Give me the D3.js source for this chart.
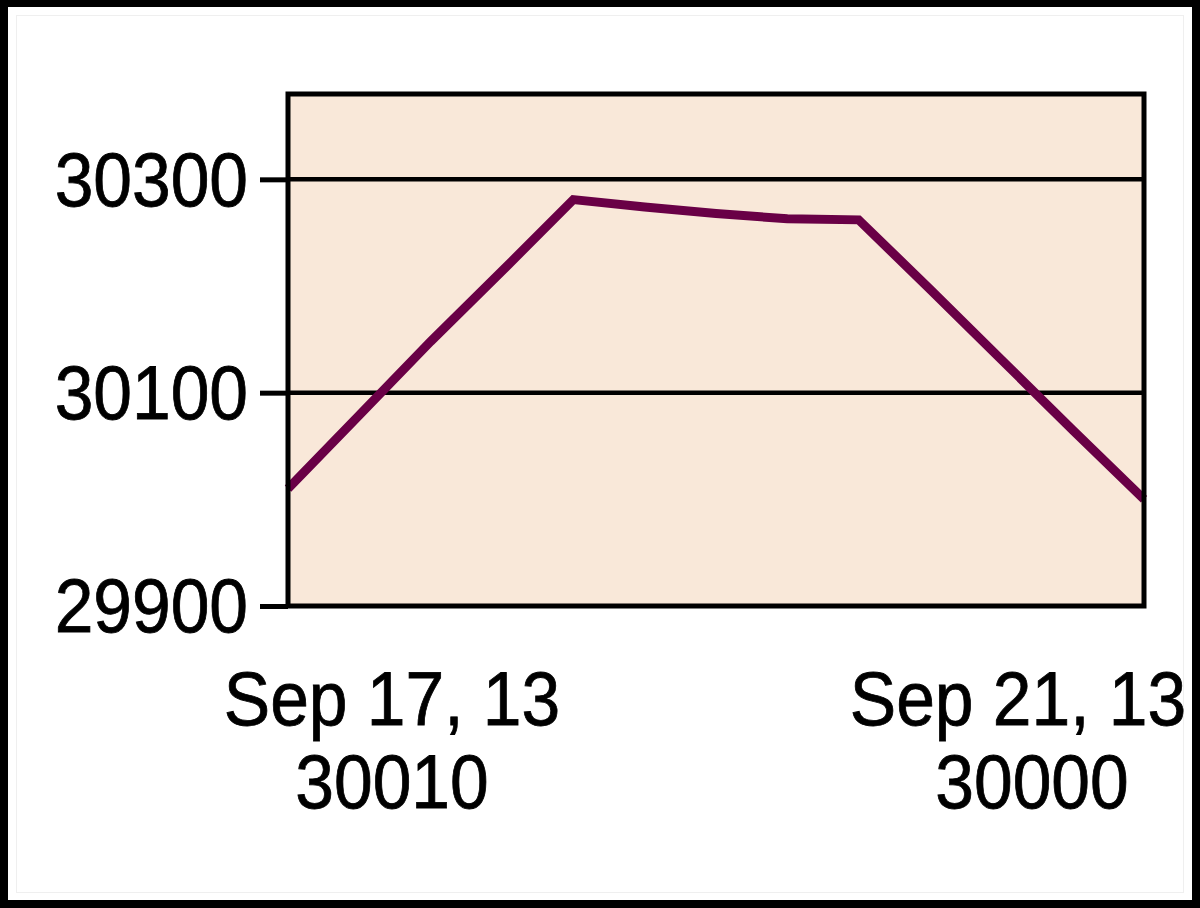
<!DOCTYPE html>
<html>
<head>
<meta charset="utf-8">
<script src="https://cdn.jsdelivr.net/npm/d3@7"></script>
<style>
html,body{margin:0;padding:0;background:#fff;}
svg{display:block;}
text{font-family:"Liberation Sans",Arial,sans-serif;fill:#000;}
</style>
</head>
<body>
<svg id="chart" width="1200" height="908"></svg>
<script>
// Data (13 points, 8-hour spacing, Sep 17 -> Sep 21, 2013)
const categories = ["2013-09-17 00:00","2013-09-17 08:00","2013-09-17 16:00","2013-09-18 00:00",
  "2013-09-18 08:00","2013-09-18 16:00","2013-09-19 00:00","2013-09-19 08:00","2013-09-19 16:00",
  "2013-09-20 00:00","2013-09-20 08:00","2013-09-20 16:00","2013-09-21 00:00"];
const values = [30010, 30079, 30148, 30214, 30281, 30274, 30268, 30263, 30262, 30197, 30131, 30065, 30000];
const yTicks = [29900, 30100, 30300];
const yDomain = [29900, 30380];
const xLabels = [
  {index: 0, lines: ["Sep 17, 13", "30010"]},
  {index: 12, lines: ["Sep 21, 13", "30000"]}
];

const svg = d3.select("#chart");
const W = 1200, H = 908;
const plot = {left: 288, right: 1144, top: 94, bottom: 606};
const squeeze = 0.915;

// outer frame
svg.append("rect").attr("x", 0).attr("y", 0).attr("width", W).attr("height", H).attr("fill", "#000");
svg.append("rect").attr("x", 8).attr("y", 7).attr("width", W - 16).attr("height", H - 15).attr("fill", "#fff");
svg.append("rect").attr("x", 16.5).attr("y", 15.5).attr("width", W - 33).attr("height", H - 31)
  .attr("fill", "none").attr("stroke", "#efefef").attr("stroke-width", 1);

const x = d3.scalePoint().domain(categories).range([plot.left, plot.right]);
const y = d3.scaleLinear().domain(yDomain).range([plot.bottom, plot.top]);

// plot background
svg.append("rect").attr("x", plot.left).attr("y", plot.top)
  .attr("width", plot.right - plot.left).attr("height", plot.bottom - plot.top)
  .attr("fill", "#F9E8D9");

// gridlines
svg.append("g").selectAll("line").data(yTicks.filter(t => t !== yDomain[0])).join("line")
  .attr("x1", plot.left).attr("x2", plot.right)
  .attr("y1", d => y(d)).attr("y2", d => y(d))
  .attr("stroke", "#000").attr("stroke-width", 4.5);

// y axis with ticks
const yAxis = d3.axisLeft(y).tickValues(yTicks).tickSize(28).tickPadding(12).tickFormat(d3.format("d"));
const gy = svg.append("g").attr("transform", `translate(${plot.left},0)`).call(yAxis);
gy.select(".domain").remove();
gy.selectAll(".tick line").attr("stroke", "#000").attr("stroke-width", 5);
gy.selectAll(".tick text").attr("font-size", 76).attr("dy", "0.34em")
  .attr("font-family", "'Liberation Sans', Arial, sans-serif")
  .attr("stroke", "#000").attr("stroke-width", 0.8)
  .attr("x", -40 / squeeze)
  .attr("transform", `scale(${squeeze},1)`);

// line
const line = d3.line().x((d, i) => x(categories[i])).y(d => y(d));
svg.append("path").datum(values).attr("d", line)
  .attr("fill", "none").attr("stroke", "#690046").attr("stroke-width", 9)
  .attr("stroke-linejoin", "miter").attr("stroke-linecap", "butt");

// plot frame
svg.append("rect").attr("x", plot.left).attr("y", plot.top)
  .attr("width", plot.right - plot.left).attr("height", plot.bottom - plot.top)
  .attr("fill", "none").attr("stroke", "#000").attr("stroke-width", 5);

// x labels (first and last point)
const offsets = [[104, 104], [-126, -112]];
xLabels.forEach((lab, k) => {
  const cx = x(categories[lab.index]);
  lab.lines.forEach((s, j) => {
    svg.append("g")
      .attr("transform", `translate(${cx + offsets[k][j]},${725 + j * 83}) scale(${squeeze},1)`)
      .append("text").attr("x", 0).attr("y", 0)
      .attr("text-anchor", "middle").attr("font-size", 76)
      .attr("stroke", "#000").attr("stroke-width", 0.8).text(s);
  });
});
</script>
</body>
</html>
